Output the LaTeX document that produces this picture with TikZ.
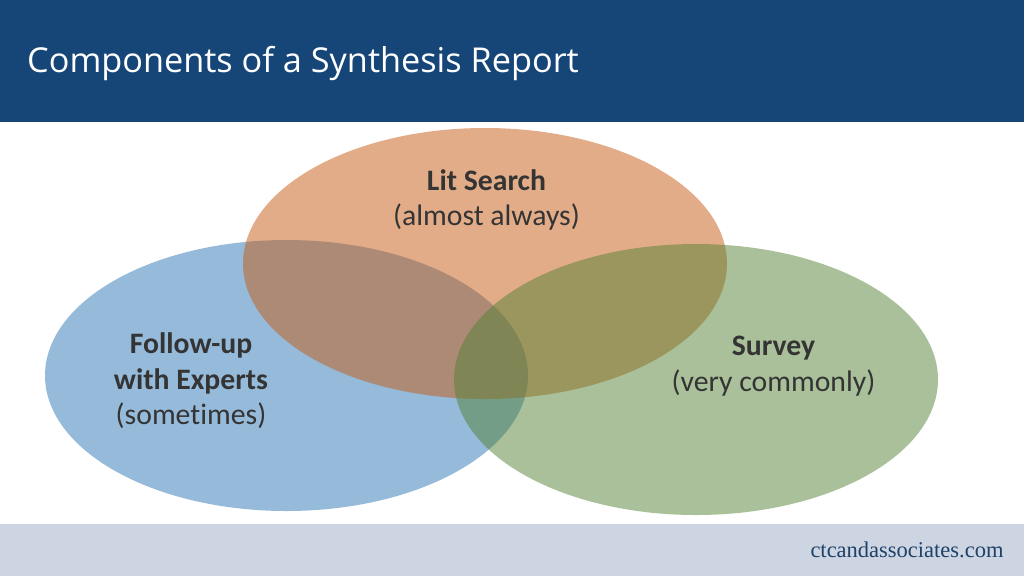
\documentclass[tikz,border=0pt]{standalone}
\usepackage{fontspec}
\setmainfont[Ligatures=NoCommon]{Carlito}
\newfontfamily\titlefont{Open Sans}
\newfontfamily\footfont{Liberation Serif}
\definecolor{headblue}{RGB}{22,69,120}
\definecolor{footgray}{RGB}{205,213,226}
\definecolor{footink}{RGB}{30,65,105}
\definecolor{labelink}{RGB}{52,52,52}
\definecolor{blueset}{HTML}{2E75B6}
\definecolor{orangeset}{HTML}{C55A11}
\definecolor{greenset}{HTML}{548235}
\tikzset{
    setlabel/.style={align=center,text=labelink,font=\fontsize{8.45}{10.1}\selectfont},
    venn/.style={fill opacity=0.5}
}

\begin{document}
\begin{tikzpicture}
            \useasboundingbox (0,0) rectangle (10.24,5.76);
            \fill[headblue] (0,4.54) rectangle (10.24,5.76);
            \fill[footgray] (0,0) rectangle (10.24,0.52);
            \fill[blueset,venn] (2.865,2.005) ellipse [x radius=2.415,y radius=1.355];
            \fill[orangeset,venn] (4.85,3.125) ellipse [x radius=2.42,y radius=1.355];
            \fill[greenset,venn] (6.96,1.965) ellipse [x radius=2.42,y radius=1.355];
            \node (title) at (0.265,5.13) [anchor=west,inner sep=0pt,text=white,font=\titlefont\fontsize{9.75}{11}\selectfont] {Components of a Synthesis Report};
            \node (litsearch) at (4.865,3.76) [setlabel] {\textbf{Lit Search}\\(almost always)};
            \node (followup) at (1.91,1.95) [setlabel] {\textbf{Follow-up}\\\textbf{with Experts}\\(sometimes)};
            \node (survey) at (7.735,2.10) [setlabel] {\textbf{Survey}\\(very commonly)};
            \node (website) at (9.07,0.265) [text=footink,font=\footfont\fontsize{6.4}{7}\selectfont] {ctcandassociates.com};
        \end{tikzpicture}
\end{document}
